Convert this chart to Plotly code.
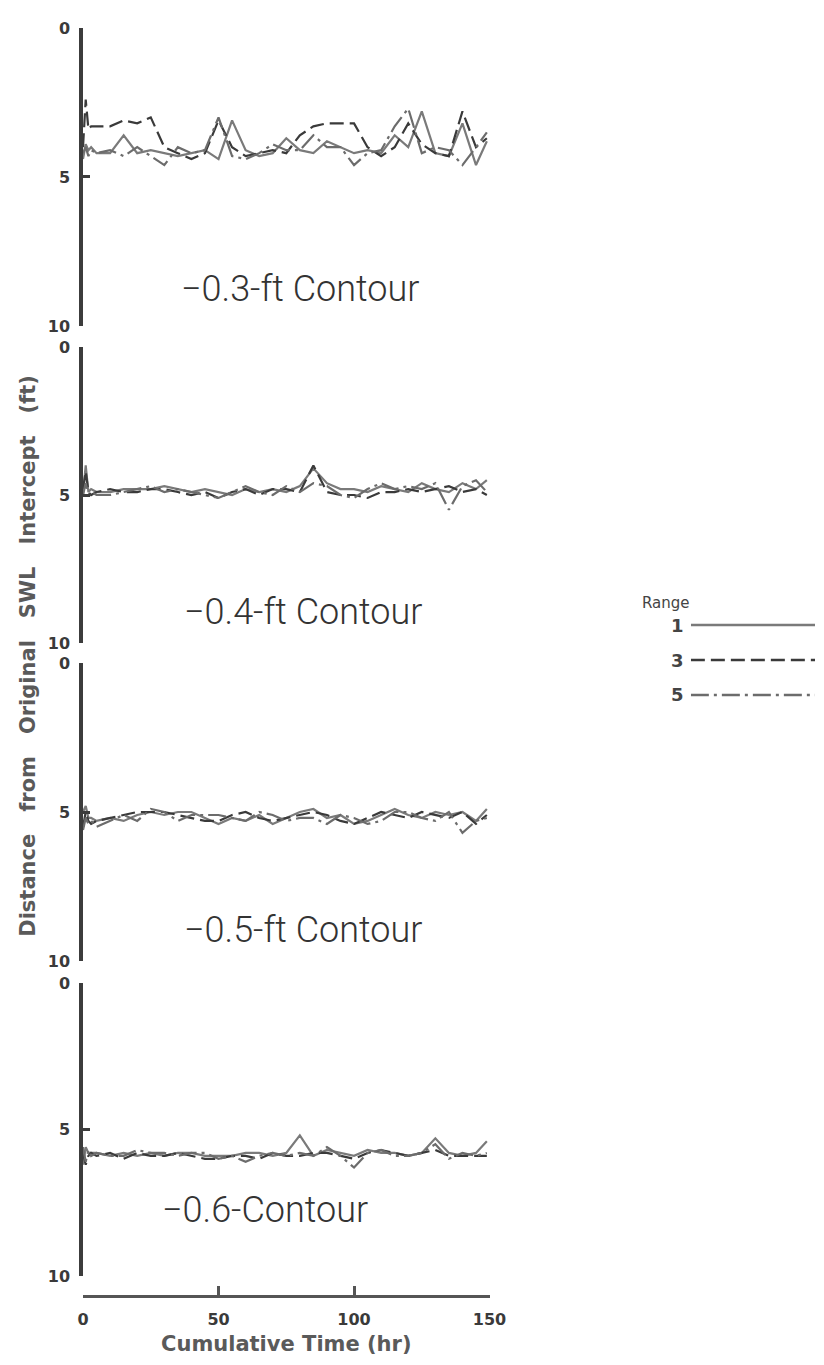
import plotly.graph_objects as go

# ---------------- data ----------------
time_hr = [0, 1, 2, 3, 5, 10, 15, 20, 25, 30, 35, 40, 45, 50, 55, 60, 65, 70,
           75, 80, 85, 90, 95, 100, 105, 110, 115, 120, 125, 130, 135, 140, 145, 149]

range_names = ["1", "3", "5"]
contour_labels = ["\u22120.3-ft Contour", "\u22120.4-ft Contour",
                  "\u22120.5-ft Contour", "\u22120.6-Contour"]

# -0.3-ft contour
c03_r1 = [4.4, 3.9, 4.1, 4.0, 4.2, 4.2, 3.6, 4.2, 4.1, 4.2, 4.3, 4.2, 4.1, 4.4, 3.1, 4.1, 4.3,
          4.2, 3.7, 4.1, 4.2, 3.8, 4.0, 4.2, 4.1, 4.2, 3.6, 4.0, 2.8, 4.2, 4.3, 3.2, 4.6, 3.8]
c03_r3 = [4.0, 2.4, 3.4, 3.3, 3.3, 3.3, 3.1, 3.2, 3.0, 4.0, 4.2, 4.4, 4.2, 3.1, 4.0, 4.3, 4.2,
          4.1, 4.2, 3.6, 3.3, 3.2, 3.2, 3.2, 4.0, 4.3, 4.0, 3.2, 3.9, 4.2, 4.3, 2.8, 4.0, 3.7]
c03_r5 = [4.2, 4.0, 4.3, 4.1, 4.2, 4.1, 4.3, 4.0, 4.3, 4.6, 4.0, 4.2, 4.1, 3.0, 4.3, 4.4, 4.2,
          3.9, 4.1, 4.1, 3.6, 4.0, 4.0, 4.6, 4.2, 4.1, 3.3, 2.7, 4.2, 4.0, 4.1, 4.6, 4.0, 3.5]
# -0.4-ft contour
c04_r1 = [5.0, 4.0, 4.9, 4.8, 4.9, 4.9, 4.8, 4.8, 4.8, 4.7, 4.8, 4.9, 4.8, 4.9, 5.0, 4.8, 4.9,
          4.8, 4.9, 4.7, 4.1, 4.6, 4.8, 4.8, 4.9, 4.7, 4.8, 4.9, 4.6, 4.8, 4.9, 4.6, 4.8, 4.5]
c04_r3 = [4.8, 4.2, 4.9, 5.0, 4.9, 4.8, 4.9, 4.9, 4.8, 4.8, 4.9, 5.0, 4.9, 5.1, 4.9, 4.8, 5.0,
          4.8, 4.8, 4.9, 4.0, 4.9, 5.0, 5.0, 5.1, 4.9, 4.9, 4.8, 4.9, 4.8, 4.7, 4.9, 4.8, 5.0]
c04_r5 = [5.0, 4.6, 5.0, 4.9, 5.0, 5.0, 4.9, 4.8, 4.7, 4.9, 4.8, 4.9, 5.0, 5.1, 4.9, 4.7, 4.9,
          5.0, 4.7, 4.9, 4.6, 4.7, 5.0, 5.1, 4.8, 4.6, 4.8, 4.7, 4.8, 4.6, 5.5, 4.7, 4.5, 4.9]
# -0.5-ft contour
c05_r1 = [5.0, 4.8, 5.2, 5.2, 5.3, 5.2, 5.3, 5.1, 5.0, 5.1, 5.0, 5.0, 5.2, 5.4, 5.2, 5.3, 5.1,
          5.4, 5.2, 5.0, 4.9, 5.2, 5.1, 5.4, 5.3, 5.1, 4.9, 5.1, 5.2, 5.0, 5.1, 5.0, 5.3, 4.9]
c05_r3 = [5.5, 5.0, 5.3, 5.4, 5.3, 5.2, 5.1, 5.0, 5.0, 5.0, 5.1, 5.2, 5.3, 5.3, 5.1, 5.0, 5.2,
          5.3, 5.2, 5.1, 5.0, 5.1, 5.3, 5.4, 5.2, 5.0, 5.1, 5.2, 5.0, 5.1, 5.2, 5.0, 5.4, 5.1]
c05_r5 = [5.6, 5.2, 5.4, 5.3, 5.5, 5.3, 5.1, 5.3, 4.9, 5.0, 5.3, 5.1, 5.1, 5.1, 5.2, 5.3, 5.0,
          5.1, 5.3, 5.2, 5.2, 5.4, 5.1, 5.2, 5.4, 5.3, 5.0, 5.0, 5.2, 5.3, 5.0, 5.7, 5.3, 5.2]
# -0.6 contour
c06_r1 = [6.2, 5.6, 5.8, 5.8, 5.8, 5.9, 5.8, 5.9, 5.8, 5.9, 5.8, 5.8, 5.9, 5.9, 5.9, 5.8, 5.8,
          5.9, 5.8, 5.2, 5.9, 5.7, 5.8, 5.9, 5.7, 5.8, 5.8, 5.9, 5.8, 5.3, 5.8, 5.9, 5.8, 5.4]
c06_r3 = [5.8, 6.2, 5.9, 5.8, 5.9, 5.8, 6.0, 5.8, 5.9, 5.9, 5.8, 5.9, 6.0, 6.0, 5.9, 5.9, 6.0,
          5.8, 5.9, 5.9, 5.8, 5.8, 5.9, 6.0, 5.8, 5.7, 5.8, 5.9, 5.8, 5.7, 5.9, 5.9, 5.9, 5.9]
c06_r5 = [5.6, 6.1, 5.7, 5.9, 5.8, 5.9, 5.9, 5.7, 5.8, 5.8, 5.9, 5.8, 5.8, 6.0, 5.9, 6.1, 5.9,
          5.8, 5.9, 5.8, 5.9, 5.6, 5.9, 6.3, 5.8, 5.7, 5.9, 5.9, 5.8, 5.5, 6.0, 5.8, 5.9, 5.8]

x_ticks = [0, 50, 100, 150]
y_ticks = [0, 5, 10]

# ---------------- styling ----------------
panels = [
    [c03_r1, c03_r3, c03_r5],
    [c04_r1, c04_r3, c04_r5],
    [c05_r1, c05_r3, c05_r5],
    [c06_r1, c06_r3, c06_r5],
]
y_refs = ["y", "y2", "y3", "y4"]
y_domains = [[0.765, 1.0], [0.515, 0.7484], [0.2642, 0.4992], [0.0158, 0.2468]]
label_pos = [(80, 8.75), (81, 8.95), (81, 8.95), (67, 7.75)]
line_colors = ["#7a7a7a", "#3a3a3a", "#6c6c6c"]
line_dashes = ["solid", "14px,6px", "18px,5px,3px,5px"]

TICK_FONT = dict(family="DejaVu Sans", size=16, color="#3a3a3a", weight="bold")
TITLE_FONT = dict(family="DejaVu Sans", size=21, color="#5a5a5a", weight="bold")
AXIS_COLOR = "#3c3c3c"
NB = "\u00a0"

fig = go.Figure()

for p, series in enumerate(panels):
    for s, vals in enumerate(series):
        fig.add_trace(go.Scatter(
            x=time_hr, y=vals, mode="lines", name="Range " + range_names[s],
            xaxis="x", yaxis=y_refs[p], showlegend=False,
            line=dict(color=line_colors[s], width=2.2, dash=line_dashes[s]),
        ))

# custom legend (text left of line sample, as in the original)
for s, nm in enumerate(range_names):
    fig.add_trace(go.Scatter(
        x=[0, 1], y=[s + 1, s + 1], mode="lines", showlegend=False, hoverinfo="skip",
        xaxis="x2", yaxis="y5", cliponaxis=False,
        line=dict(color=line_colors[s], width=2.4, dash=line_dashes[s]),
    ))

layout = dict(
    width=824, height=1365,
    paper_bgcolor="white", plot_bgcolor="white",
    margin=dict(l=75, r=0, t=20, b=77),
    showlegend=False,
    xaxis=dict(
        domain=[0, 0.5554], range=[0, 150], anchor="free", position=0,
        showline=True, linewidth=3, linecolor="#555555",
        ticks="inside", ticklen=9, tickwidth=3, tickcolor="#555555",
        tickvals=x_ticks, tickfont=TICK_FONT, ticklabelstandoff=8,
        showgrid=False, zeroline=False,
        title=dict(text="Cumulative" + NB + "Time" + NB + "(hr)", standoff=8, font=TITLE_FONT),
    ),
    xaxis2=dict(domain=[0.8304, 1.0], range=[0, 1], anchor="y5", visible=False),
    yaxis5=dict(domain=[0.4602, 0.543], range=[3.5, 0.5], anchor="x2", visible=False),
)
for p in range(4):
    key = "yaxis" if p == 0 else "yaxis%d" % (p + 1)
    layout[key] = dict(
        domain=y_domains[p], range=[10, 0], anchor="x",
        showline=True, linewidth=3.5, linecolor=AXIS_COLOR,
        ticks="inside", ticklen=7, tickwidth=3, tickcolor=AXIS_COLOR,
        tickvals=y_ticks, tickfont=TICK_FONT, ticklabelstandoff=6,
        showgrid=False, zeroline=False,
    )
fig.update_layout(**layout)

annotations = []
for p, lab in enumerate(contour_labels):
    annotations.append(dict(
        x=label_pos[p][0], y=label_pos[p][1], xref="x", yref=y_refs[p],
        xanchor="center", yanchor="middle",
        text=lab, showarrow=False,
        font=dict(family="Roboto", size=36, color="#333333", weight=300),
    ))
y_title = (NB * 3).join(["Distance", "from", "Original", "SWL", "Intercept", "(ft)"])
annotations.append(dict(
    x=-0.075, y=0.505, xref="paper", yref="paper", textangle=-90,
    xanchor="center", yanchor="middle",
    text=y_title, showarrow=False, font=TITLE_FONT,
))
annotations.append(dict(
    x=0.797, y=0.5465, xref="paper", yref="paper", text="Range", showarrow=False,
    xanchor="center", yanchor="middle",
    font=dict(family="DejaVu Sans", size=15, color="#444444"),
))
legend_label_y = [0.529, 0.5008, 0.474]
for s, nm in enumerate(range_names):
    annotations.append(dict(
        x=0.812, y=legend_label_y[s], xref="paper", yref="paper", text=nm,
        xanchor="center", yanchor="middle",
        showarrow=False, font=dict(family="DejaVu Sans", size=18, color="#444444", weight="bold"),
    ))
fig.update_layout(annotations=annotations)

fig.write_html("out.html")
